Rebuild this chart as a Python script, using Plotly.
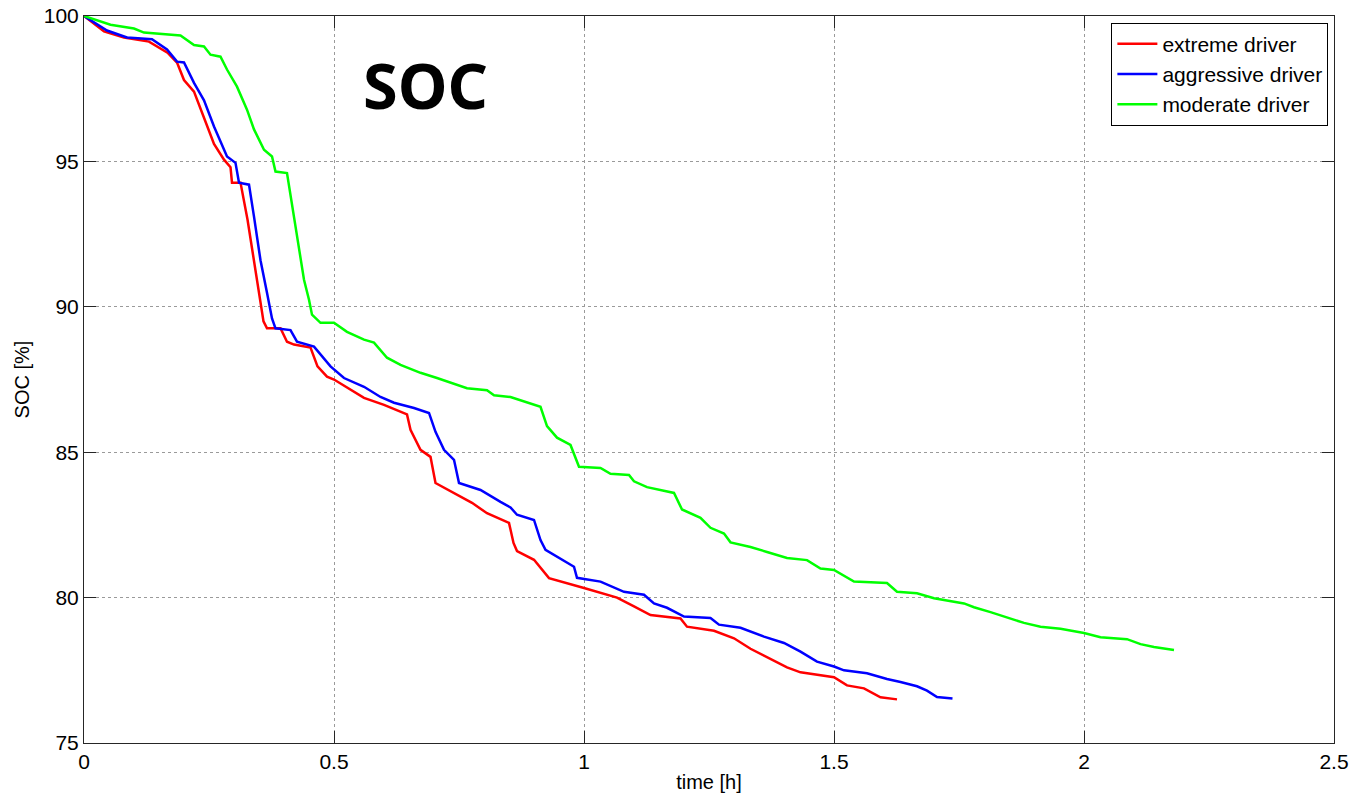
import plotly.graph_objects as go

# extreme driver
t_ext = [0, 0.04, 0.08, 0.13, 0.167, 0.186, 0.2, 0.22, 0.24, 0.26, 0.28, 0.293, 0.296, 0.313,
         0.327, 0.34, 0.353, 0.359, 0.366, 0.393, 0.406, 0.42, 0.453, 0.467, 0.486, 0.5,
         0.56, 0.6, 0.646, 0.653, 0.673, 0.693, 0.703, 0.746, 0.776, 0.806, 0.85, 0.859,
         0.866, 0.9, 0.93, 1.0, 1.066, 1.1, 1.133, 1.193, 1.206, 1.26, 1.3, 1.333, 1.366,
         1.406, 1.433, 1.5, 1.526, 1.56, 1.593, 1.626]
soc_ext = [100, 99.47, 99.26, 99.12, 98.74, 98.4, 97.8, 97.4, 96.5, 95.6, 95.06, 94.8, 94.27, 94.27,
           93.0, 91.6, 90.2, 89.5, 89.26, 89.26, 88.8, 88.7, 88.6, 87.95, 87.6, 87.5,
           86.87, 86.63, 86.3, 85.77, 85.08, 84.84, 83.94, 83.53, 83.26, 82.9, 82.57, 81.88,
           81.6, 81.3, 80.67, 80.33, 80.0, 79.7, 79.4, 79.28, 79.0, 78.86, 78.6, 78.24, 77.96,
           77.6, 77.43, 77.26, 76.98, 76.88, 76.57, 76.5]

# aggressive driver
t_agg = [0, 0.046, 0.086, 0.136, 0.166, 0.186, 0.2, 0.22, 0.24, 0.26, 0.286, 0.303, 0.31, 0.33,
         0.34, 0.353, 0.366, 0.376, 0.383, 0.413, 0.426, 0.46, 0.493, 0.52, 0.56, 0.593,
         0.62, 0.66, 0.69, 0.703, 0.72, 0.74, 0.75, 0.793, 0.833, 0.853, 0.866, 0.9, 0.913,
         0.923, 0.98, 0.986, 1.033, 1.08, 1.12, 1.14, 1.166, 1.2, 1.253, 1.27, 1.313, 1.36,
         1.4, 1.433, 1.466, 1.5, 1.52, 1.566, 1.606, 1.633, 1.666, 1.686, 1.706, 1.737]
soc_agg = [100, 99.5, 99.26, 99.2, 98.85, 98.43, 98.4, 97.7, 97.1, 96.2, 95.17, 94.95, 94.27, 94.2,
           93.1, 91.6, 90.48, 89.6, 89.26, 89.2, 88.8, 88.63, 87.95, 87.55, 87.25, 86.9,
           86.7, 86.52, 86.35, 85.7, 85.08, 84.74, 83.94, 83.7, 83.29, 83.1, 82.85, 82.67, 81.98,
           81.64, 81.06, 80.68, 80.55, 80.2, 80.1, 79.8, 79.65, 79.35, 79.3, 79.07, 78.96, 78.66,
           78.44, 78.14, 77.8, 77.63, 77.5, 77.4, 77.2, 77.1, 76.95, 76.8, 76.58, 76.53]

# moderate driver
t_mod = [0, 0.053, 0.1, 0.12, 0.193, 0.22, 0.24, 0.253, 0.273, 0.286, 0.306, 0.326, 0.34, 0.36,
         0.376, 0.383, 0.406, 0.42, 0.43, 0.44, 0.45, 0.456, 0.473, 0.5, 0.526, 0.56, 0.58,
         0.606, 0.633, 0.673, 0.706, 0.733, 0.766, 0.806, 0.82, 0.853, 0.9, 0.913, 0.926,
         0.946, 0.973, 0.99, 1.033, 1.053, 1.09, 1.1, 1.126, 1.18, 1.196, 1.233, 1.253, 1.28,
         1.293, 1.333, 1.366, 1.406, 1.446, 1.473, 1.5, 1.54, 1.606, 1.626, 1.666, 1.7, 1.76,
         1.78, 1.813, 1.846, 1.88, 1.913, 1.953, 2.0, 2.033, 2.086, 2.113, 2.14, 2.18]
soc_mod = [100, 99.7, 99.57, 99.43, 99.33, 99.0, 98.95, 98.67, 98.6, 98.16, 97.57, 96.78, 96.1, 95.4,
           95.17, 94.65, 94.6, 93.1, 91.96, 90.93, 90.24, 89.73, 89.45, 89.45, 89.14, 88.87, 88.77,
           88.25, 88.0, 87.73, 87.55, 87.4, 87.2, 87.13, 86.96, 86.9, 86.63, 86.56, 85.9,
           85.5, 85.25, 84.5, 84.46, 84.26, 84.22, 84.0, 83.8, 83.6, 83.03, 82.74, 82.4, 82.2,
           81.9, 81.74, 81.57, 81.36, 81.29, 81.0, 80.95, 80.55, 80.5, 80.2, 80.15, 79.98, 79.8,
           79.67, 79.5, 79.33, 79.13, 79.0, 78.93, 78.78, 78.64, 78.57, 78.4, 78.3, 78.2]

x_ticks = [0, 0.5, 1, 1.5, 2, 2.5]
x_tick_labels = ["0", "0.5", "1", "1.5", "2", "2.5"]
y_ticks = [75, 80, 85, 90, 95, 100]

fig = go.Figure()
for t, s, name, color in [(t_ext, soc_ext, "extreme driver", "#ff0000"),
                          (t_agg, soc_agg, "aggressive driver", "#0000ff"),
                          (t_mod, soc_mod, "moderate driver", "#00ff00")]:
    fig.add_trace(go.Scatter(x=t, y=s, mode="lines", name=name,
                             line=dict(color=color, width=2.5)))

axis_common = dict(showline=True, linecolor="#262626", linewidth=1, mirror="ticks",
                   ticks="inside", ticklen=12, tickcolor="#262626",
                   showgrid=True, gridcolor="#9a9a9a", griddash="dot", gridwidth=1,
                   zeroline=False, automargin=False,
                   tickfont=dict(family="Liberation Sans, Arial", size=21, color="black"))

fig.update_layout(
    width=1354, height=798,
    margin=dict(l=84, r=20, t=16, b=55, autoexpand=False),
    paper_bgcolor="white", plot_bgcolor="white",
    font=dict(family="Liberation Sans, Arial", size=21, color="black"),
    xaxis=dict(range=[0, 2.5], tickvals=x_ticks, ticktext=x_tick_labels,
               title=dict(text="time [h]", standoff=2, font=dict(size=20)), **axis_common),
    yaxis=dict(range=[75, 100], tickvals=y_ticks,
               title=dict(text="SOC [%]", standoff=8, font=dict(size=20)), **axis_common),
    legend=dict(x=0.9955, y=0.991, xanchor="right", yanchor="top",
                bordercolor="black", borderwidth=1, bgcolor="white",
                font=dict(size=21), tracegroupgap=0, itemwidth=40),
    showlegend=True,
)
fig.add_annotation(x=0.273, y=0.906, xref="paper", yref="paper", text="<b>SOC</b>",
                   xanchor="center", yanchor="middle",
                   showarrow=False, font=dict(family="Noto Sans", size=63, color="black"))

fig.write_html("out.html")
